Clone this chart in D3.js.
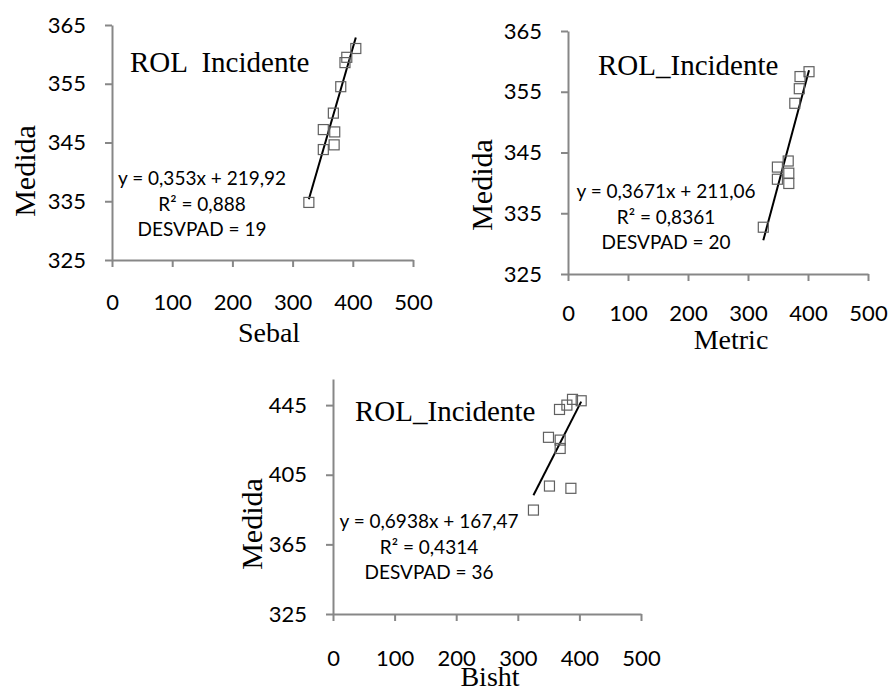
<!DOCTYPE html>
<html>
<head>
<meta charset="utf-8">
<script src="https://cdn.jsdelivr.net/npm/d3@7"></script>
<style>
  body { margin: 0; background: #fff; }
  svg { display: block; }
</style>
</head>
<body>
<div id="chart"></div>
<script>
// values
const xTicks = [0, 100, 200, 300, 400, 500];
const yTicksSmall = [325, 335, 345, 355, 365];
const yTicksBisht = [325, 365, 405, 445];

const sebalX = [327, 351, 351, 367.7, 369, 370, 380, 387, 390, 405];
const sebalY = [334.8, 343.8, 347.2, 350.0, 344.6, 346.8, 354.5, 358.6, 359.5, 361.0];

const metricX = [325.5, 349, 349, 367, 368, 368, 378, 385.5, 386.7, 401.7];
const metricY = [332.7, 342.6, 340.6, 343.6, 341.6, 339.9, 353.1, 355.5, 357.5, 358.3];

const bishtX = [325.4, 349.8, 351.4, 367.7, 368.8, 368.8, 379.7, 386.2, 388.8, 402.9];
const bishtY = [384.7, 426.5, 398.5, 442.5, 424.9, 420.1, 445.0, 397.2, 448.3, 447.5];

const slopes = [0.353, 0.3671, 0.6938];
const intercepts = [219.92, 211.06, 167.47];
const eqLabels = ["y = 0,353x + 219,92", "y = 0,3671x + 211,06", "y = 0,6938x + 167,47"];
const r2Labels = ["R\u00b2 = 0,888", "R\u00b2 = 0,8361", "R\u00b2 = 0,4314"];
const sdLabels = ["DESVPAD = 19", "DESVPAD = 20", "DESVPAD = 36"];
const titles = ["ROL  Incidente", "ROL_Incidente", "ROL_Incidente"];
const xTitles = ["Sebal", "Metric", "Bisht"];

const sans = "Lato, 'Open Sans', sans-serif";
const serif = "'Liberation Serif', 'DejaVu Serif', serif";
const axisColor = "#878787";

const svg = d3.select("#chart").append("svg")
    .attr("width", 890)
    .attr("height", 688);

// layout of each panel (pixels)
const panels = [
    {xs: sebalX, ys: sebalY, yTicks: yTicksSmall, yDomain: [325, 365],
     left: 112, right: 413, bottom: 260, top: 25, labelGap: 42,
     title: [130, 72], ann: [202, 185], xTitle: [269, 342], yTitle: [35, 171]},
    {xs: metricX, ys: metricY, yTicks: yTicksSmall, yDomain: [325, 365],
     left: 568, right: 868, bottom: 274, top: 31, labelGap: 39,
     title: [598, 75], ann: [666, 198], xTitle: [731, 349], yTitle: [492, 185]},
    {xs: bishtX, ys: bishtY, yTicks: yTicksBisht, yDomain: [325, 460],
     left: 333, right: 641, bottom: 614, top: 379, labelGap: 44,
     title: [355, 421], ann: [429, 528], xTitle: [490, 686], yTitle: [262, 524]}
];

panels.forEach(function(p, i) {
    const x = d3.scaleLinear().domain([0, 500]).range([p.left, p.right]);
    const y = d3.scaleLinear().domain(p.yDomain).range([p.bottom, p.top]);
    const g = svg.append("g");

    const yAxis = g.append("g")
        .attr("transform", "translate(" + p.left + ",0)")
        .call(d3.axisLeft(y).tickValues(p.yTicks).tickSize(7).tickSizeOuter(0).tickPadding(19));
    const xAxis = g.append("g")
        .attr("transform", "translate(0," + p.bottom + ")")
        .call(d3.axisBottom(x).tickValues(xTicks).tickSize(7).tickSizeOuter(0));

    [yAxis, xAxis].forEach(function(ax) {
        ax.select(".domain").attr("stroke", axisColor).attr("stroke-width", 2);
        ax.selectAll(".tick line").attr("stroke", axisColor).attr("stroke-width", 2);
        ax.selectAll(".tick text")
            .attr("fill", "#000")
            .attr("font-family", sans)
            .attr("font-size", "22px");
    });
    xAxis.selectAll(".tick text").attr("y", p.labelGap).attr("dy", "0.35em");

    // trend line over the data range
    const x0 = d3.min(p.xs), x1 = d3.max(p.xs);
    g.append("line")
        .attr("x1", x(x0)).attr("y1", y(slopes[i] * x0 + intercepts[i]))
        .attr("x2", x(x1)).attr("y2", y(slopes[i] * x1 + intercepts[i]))
        .attr("stroke", "#000")
        .attr("stroke-width", 2);

    // square markers
    g.selectAll("rect.pt")
        .data(p.xs.map(function(v, k) { return [v, p.ys[k]]; }))
        .enter().append("rect")
        .attr("class", "pt")
        .attr("x", function(d) { return x(d[0]) - 5; })
        .attr("y", function(d) { return y(d[1]) - 5; })
        .attr("width", 10)
        .attr("height", 10)
        .attr("fill", "none")
        .attr("stroke", "#606060")
        .attr("stroke-width", 1.2);

    g.append("text")
        .attr("x", p.title[0])
        .attr("y", p.title[1])
        .style("white-space", "pre")
        .attr("font-family", serif)
        .attr("font-size", "29px")
        .text(titles[i]);

    [eqLabels[i], r2Labels[i], sdLabels[i]].forEach(function(t, k) {
        g.append("text")
            .attr("x", p.ann[0])
            .attr("y", p.ann[1] + [0, 26, 51][k])
            .attr("text-anchor", "middle")
            .attr("font-family", sans)
            .attr("font-size", "19px")
            .text(t);
    });

    g.append("text")
        .attr("x", p.xTitle[0])
        .attr("y", p.xTitle[1])
        .attr("text-anchor", "middle")
        .attr("font-family", serif)
        .attr("font-size", "28px")
        .text(xTitles[i]);

    g.append("text")
        .attr("transform", "translate(" + p.yTitle[0] + "," + p.yTitle[1] + ") rotate(-90)")
        .attr("text-anchor", "middle")
        .attr("font-family", serif)
        .attr("font-size", "30px")
        .text("Medida");
});
</script>
</body>
</html>
